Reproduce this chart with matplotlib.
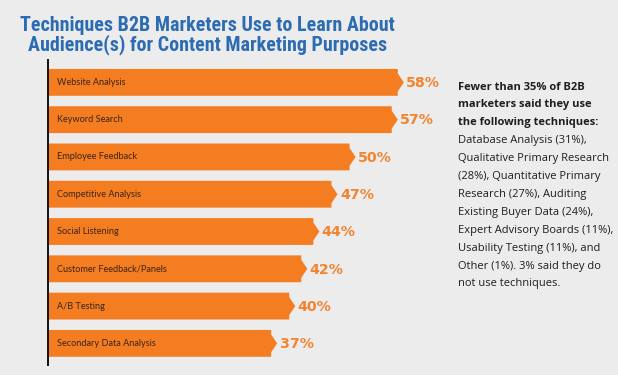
import matplotlib
matplotlib.use("Agg")
import matplotlib.pyplot as plt
from matplotlib.patches import Polygon
from matplotlib import font_manager

categories = ["Website Analysis", "Keyword Search", "Employee Feedback",
              "Competitive Analysis", "Social Listening", "Customer Feedback/Panels",
              "A/B Testing", "Secondary Data Analysis"]
values = [58, 57, 50, 47, 44, 42, 40, 37]
value_labels = ["58%", "57%", "50%", "47%", "44%", "42%", "40%", "37%"]

title_lines = ["Techniques B2B Marketers Use to Learn About",
               "Audience(s) for Content Marketing Purposes"]
note_bold = ["Fewer than 35% of B2B", "marketers said they use", "the following techniques:"]
note_regular = ["Database Analysis (31%),", "Qualitative Primary Research",
                "(28%), Quantitative Primary", "Research (27%), Auditing",
                "Existing Buyer Data (24%),", "Expert Advisory Boards (11%),",
                "Usability Testing (11%), and", "Other (1%). 3% said they do",
                "not use techniques."]

names = {f.name for f in font_manager.fontManager.ttflist}
title_font = "Lato"
for cand in ["Roboto Condensed", "Liberation Sans Narrow", "Open Sans Condensed"]:
    if cand in names:
        title_font = cand
        break

BG = "#ececec"
ORANGE = "#f47d22"
LABEL_ORANGE = "#f28430"
BLUE = "#2c6cb3"

W, H = 618, 375
fig = plt.figure(figsize=(W / 100, H / 100), dpi=100, facecolor=BG)
renderer = fig.canvas.get_renderer()


def text_width(s, **kw):
    t = fig.text(0, 0, s, fontsize=10, **kw)
    w = t.get_window_extent(renderer=renderer).width
    t.remove()
    return w


ax = fig.add_axes([48 / W, (375 - 365) / H, 392 / W, 305 / H])
ax.set_facecolor(BG)
ax.set_xlim(0, 65)
ax.set_ylim(7.58, -0.6)

lab_size = 10 * 69 / text_width(categories[0], family="Lato")

bh = 0.72
tip = 1.0
for i, (cat, v, lab) in enumerate(zip(categories, values, value_labels)):
    y0, y1 = i - bh / 2, i + bh / 2
    poly = Polygon([(0, y0), (v, y0), (v, i - 0.24), (v + tip, i), (v, i + 0.24),
                    (v, y1), (0, y1)], closed=True, facecolor=ORANGE, edgecolor="none")
    ax.add_patch(poly)
    ax.text(1.55, i, cat, va="center", ha="left", fontsize=lab_size, color="#3a2414",
            family="Lato")
    ax.text(v + tip + 0.4, i + 0.02, lab, va="center", ha="left", fontsize=10.2,
            color=LABEL_ORANGE, fontweight="bold", family="DejaVu Sans")

for s in ["top", "right", "bottom"]:
    ax.spines[s].set_visible(False)
ax.spines["left"].set_color("#111111")
ax.spines["left"].set_linewidth(1.4)
ax.set_xticks([])
ax.set_yticks([])

t_size = 10 * 373 / text_width(title_lines[0], fontweight="bold", family=title_font)
for j, line in enumerate(title_lines):
    fig.text(207.5 / W, 1 - (31 + 19 * j) / H, line, ha="center", va="baseline",
             fontsize=t_size, fontweight="bold", color=BLUE, family=title_font)

b_size = 10 * 127 / text_width(note_bold[0], fontweight="bold", family="Open Sans")
r_w = max(text_width(s, family="Open Sans") for s in note_regular)
r_size = 10 * 155 / r_w

x0 = 458 / W
for j, line in enumerate(note_bold + note_regular):
    bold = j < len(note_bold)
    fig.text(x0, 1 - (87 + 17.9 * j) / H, line, ha="left", va="center",
             fontsize=b_size if bold else r_size,
             fontweight="bold" if bold else "normal",
             color="#1e1e1e", family="Open Sans")

fig.savefig("out.png", dpi=100, facecolor=BG)
